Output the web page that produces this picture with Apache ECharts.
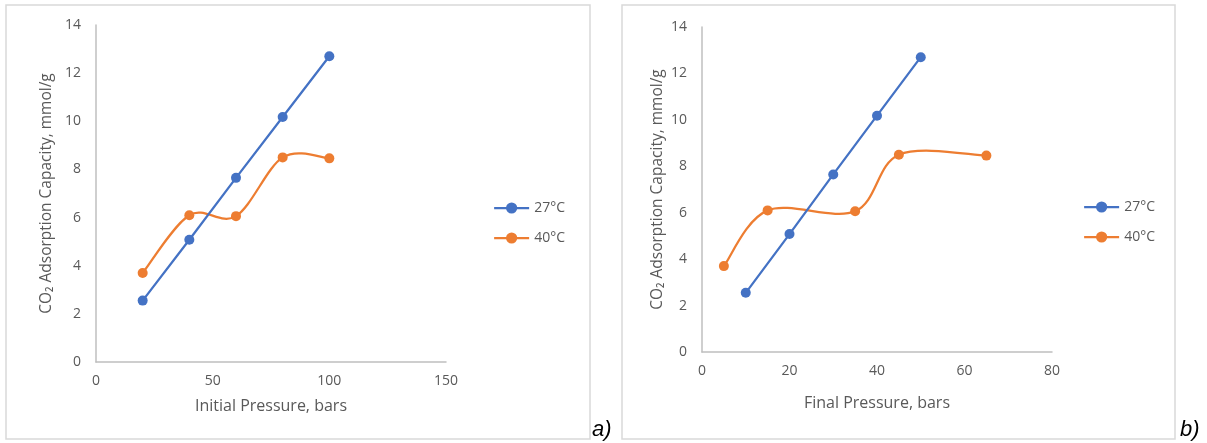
<!DOCTYPE html>
<html>
<head>
<meta charset="utf-8">
<script src="https://cdn.jsdelivr.net/npm/echarts@6/dist/echarts.min.js"></script>
<style>html,body{margin:0;padding:0;background:#fff;}#c{width:1207px;height:443px;}</style>
</head>
<body>
<div id="c"></div>
<script>
// ---- data ----
const seriesNames = ['27°C', '40°C'];
const initialPressure27 = [20, 40, 60, 80, 100];
const initialPressure40 = [20, 40, 60, 80, 100];
const finalPressure27 = [10, 20, 30, 40, 50];
const finalPressure40 = [5, 15, 35, 45, 65];
const capacity27 = [2.55, 5.08, 7.65, 10.18, 12.7];
const capacity40 = [3.7, 6.1, 6.06, 8.5, 8.46];
const yTicks = [0, 2, 4, 6, 8, 10, 12, 14];
const xTicksA = [0, 50, 100, 150];
const xTicksB = [0, 20, 40, 60, 80];

const BLUE = '#4472C4', ORANGE = '#ED7D31';
const FONT = 'Open Sans';
const GREY = '#595959';
const pair = (xs, ys) => xs.map((x, i) => [x, ys[i]]);

const axisLine = { show: true, lineStyle: { color: '#BFBFBF', width: 1.5 } };
function xAxis(grid, ticks, name, gap) {
  return {
    type: 'value', gridIndex: grid, min: ticks[0], max: ticks[ticks.length - 1],
    interval: ticks[1] - ticks[0], name: name, nameLocation: 'middle', nameGap: gap,
    nameTextStyle: { color: GREY, fontSize: 16, fontFamily: FONT },
    axisLine: axisLine, axisTick: { show: false }, splitLine: { show: false },
    axisLabel: { color: GREY, fontSize: 14, fontFamily: FONT, margin: 12 }
  };
}
function yAxis(grid, gap) {
  return {
    type: 'value', gridIndex: grid, min: yTicks[0], max: yTicks[yTicks.length - 1],
    interval: yTicks[1] - yTicks[0], name: 'CO₂ Adsorption Capacity, mmol/g',
    nameLocation: 'middle', nameGap: gap,
    nameTextStyle: { color: GREY, fontSize: 15.5, fontFamily: FONT },
    axisLine: axisLine, axisTick: { show: false }, splitLine: { show: false },
    axisLabel: { color: GREY, fontSize: 14, fontFamily: FONT, margin: 15 }
  };
}
function line(name, color, grid, data, hideLine) {
  return {
    type: 'line', name: name, xAxisIndex: grid, yAxisIndex: grid, data: data,
    symbol: 'circle', symbolSize: 10, z: 3,
    itemStyle: { color: color },
    lineStyle: { color: color, width: 2.25, opacity: hideLine ? 0 : 1 }
  };
}
// Excel-style smoothed line: Catmull-Rom bezier through the data points, via the axes' coord().
function smoothCurve(color, grid, data) {
  return {
    type: 'custom', coordinateSystem: 'cartesian2d', xAxisIndex: grid, yAxisIndex: grid,
    data: data, encode: { x: 0, y: 1 }, z: 2, silent: true,
    renderItem: function (params, api) {
      const i = params.dataIndex;
      if (i >= data.length - 1) return null;
      const P = data.map(d => api.coord(d));
      const p0 = P[Math.max(i - 1, 0)], p1 = P[i], p2 = P[i + 1], p3 = P[Math.min(i + 2, P.length - 1)];
      return {
        type: 'bezierCurve',
        shape: {
          x1: p1[0], y1: p1[1], x2: p2[0], y2: p2[1],
          cpx1: p1[0] + (p2[0] - p0[0]) / 6, cpy1: p1[1] + (p2[1] - p0[1]) / 6,
          cpx2: p2[0] - (p3[0] - p1[0]) / 6, cpy2: p2[1] - (p3[1] - p1[1]) / 6
        },
        style: { stroke: color, lineWidth: 2.25, fill: null }
      };
    }
  };
}
function legend(left, top) {
  return {
    data: seriesNames, orient: 'vertical', left: left, top: top, padding: 0,
    itemWidth: 35, itemHeight: 14, itemGap: 16,
    lineStyle: { opacity: 1, width: 2.25 },
    textStyle: { color: GREY, fontSize: 14, fontFamily: FONT },
    selectedMode: false
  };
}

const chart = echarts.init(document.getElementById('c'), null, { renderer: 'canvas' });
const dataA27 = pair(initialPressure27, capacity27), dataA40 = pair(initialPressure40, capacity40);
const dataB27 = pair(finalPressure27, capacity27), dataB40 = pair(finalPressure40, capacity40);
chart.setOption({
  animation: false,
  backgroundColor: '#fff',
  grid: [
    { left: 96, top: 25, width: 350, height: 337 },
    { left: 702, top: 27, width: 350, height: 325 }
  ],
  xAxis: [xAxis(0, xTicksA, 'Initial Pressure, bars', 36), xAxis(1, xTicksB, 'Final Pressure, bars', 43)],
  yAxis: [yAxis(0, 41), yAxis(1, 36)],
  legend: [legend(493, 201), legend(1083, 200)],
  series: [
    line(seriesNames[0], BLUE, 0, dataA27, false),
    smoothCurve(ORANGE, 0, dataA40),
    line(seriesNames[1], ORANGE, 0, dataA40, true),
    line(seriesNames[0], BLUE, 1, dataB27, false),
    smoothCurve(ORANGE, 1, dataB40),
    line(seriesNames[1], ORANGE, 1, dataB40, true)
  ],
  graphic: [
    { type: 'rect', shape: { x: 6, y: 5, width: 584, height: 434 }, style: { fill: 'none', stroke: '#D9D9D9', lineWidth: 1.5 }, silent: true },
    { type: 'rect', shape: { x: 622, y: 5, width: 553, height: 434 }, style: { fill: 'none', stroke: '#D9D9D9', lineWidth: 1.5 }, silent: true },
    { type: 'text', left: 592, top: 419, style: { text: 'a)', fill: '#000', font: 'italic 22px "Liberation Sans"' }, silent: true },
    { type: 'text', left: 1180, top: 419, style: { text: 'b)', fill: '#000', font: 'italic 22px "Liberation Sans"' }, silent: true }
  ]
});
</script>
</body>
</html>
